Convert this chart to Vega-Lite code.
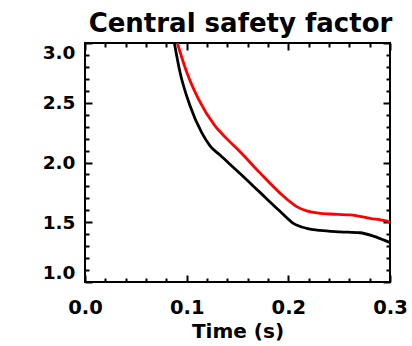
{
  "$schema": "https://vega.github.io/schema/vega-lite/v6.json",
  "width": 305,
  "height": 239,
  "autosize": "none",
  "padding": {"left": 85, "top": 43, "right": 22, "bottom": 64},
  "background": "white",
  "config": {
    "view": {"stroke": "black", "strokeWidth": 2},
    "axis": {
      "domain": false,
      "grid": false,
      "labelFont": "DejaVu Sans",
      "labelFontWeight": "bold",
      "labelColor": "black",
      "titleFont": "DejaVu Sans",
      "titleFontWeight": "bold",
      "titleColor": "black",
      "tickColor": "black",
      "tickWidth": 2
    }
  },
  "title": {
    "text": "Central safety factor",
    "font": "DejaVu Sans",
    "fontWeight": "bold",
    "fontSize": 26,
    "color": "black",
    "anchor": "middle",
    "frame": "group",
    "baseline": "alphabetic",
    "offset": 15,
    "dx": 3,
    "dy": 31
  },
  "data": {
    "values": [
      {"t": 0.0879, "q": 3.0, "s": "black"},
      {"t": 0.0934, "q": 2.757, "s": "black"},
      {"t": 0.1033, "q": 2.475, "s": "black"},
      {"t": 0.1148, "q": 2.25, "s": "black"},
      {"t": 0.123, "q": 2.14, "s": "black"},
      {"t": 0.1328, "q": 2.062, "s": "black"},
      {"t": 0.1525, "q": 1.908, "s": "black"},
      {"t": 0.1721, "q": 1.75, "s": "black"},
      {"t": 0.1918, "q": 1.592, "s": "black"},
      {"t": 0.2049, "q": 1.491, "s": "black"},
      {"t": 0.2181, "q": 1.449, "s": "black"},
      {"t": 0.2311, "q": 1.432, "s": "black"},
      {"t": 0.2508, "q": 1.42, "s": "black"},
      {"t": 0.2705, "q": 1.412, "s": "black"},
      {"t": 0.2836, "q": 1.384, "s": "black"},
      {"t": 0.2983, "q": 1.336, "s": "black"},
      {"t": 0.3, "q": 1.33, "s": "black"},
      {"t": 0.0908, "q": 3.0, "s": "red"},
      {"t": 0.1, "q": 2.757, "s": "red"},
      {"t": 0.1115, "q": 2.532, "s": "red"},
      {"t": 0.1279, "q": 2.306, "s": "red"},
      {"t": 0.1394, "q": 2.2, "s": "red"},
      {"t": 0.1525, "q": 2.09, "s": "red"},
      {"t": 0.1721, "q": 1.913, "s": "red"},
      {"t": 0.1918, "q": 1.744, "s": "red"},
      {"t": 0.2082, "q": 1.631, "s": "red"},
      {"t": 0.2181, "q": 1.595, "s": "red"},
      {"t": 0.2311, "q": 1.575, "s": "red"},
      {"t": 0.241, "q": 1.569, "s": "red"},
      {"t": 0.2607, "q": 1.561, "s": "red"},
      {"t": 0.2803, "q": 1.533, "s": "red"},
      {"t": 0.2983, "q": 1.505, "s": "red"},
      {"t": 0.3, "q": 1.5, "s": "red"}
    ]
  },
  "resolve": {"axis": {"x": "independent", "y": "independent"}},
  "layer": [
    {
      "transform": [{"filter": "datum.s === 'black'"}],
      "mark": {"type": "line", "color": "black", "strokeWidth": 2.8, "clip": true, "interpolate": "monotone"},
      "encoding": {
        "x": {
          "field": "t", "type": "quantitative",
          "scale": {"domain": [0, 0.3], "nice": false, "zero": false},
          "axis": {"orient": "bottom", "values": [0, 0.1, 0.2, 0.3], "format": ".1f", "ticks": false, "labelFlush": false, "labelPadding": 16, "labelFontSize": 19.5, "title": "Time (s)", "titleFontSize": 20, "titlePadding": 5}
        },
        "y": {
          "field": "q", "type": "quantitative",
          "scale": {"domain": [1, 3], "nice": false, "zero": false},
          "axis": {"orient": "left", "values": [1, 1.5, 2, 2.5, 3], "format": ".1f", "ticks": false, "labelPadding": 10, "labelFontSize": 18.5, "labelFlush": true, "title": null}
        }
      }
    },
    {
      "transform": [{"filter": "datum.s === 'red'"}],
      "mark": {"type": "line", "color": "red", "strokeWidth": 2.8, "clip": true, "interpolate": "monotone"},
      "encoding": {
        "x": {"field": "t", "type": "quantitative", "axis": {"orient": "bottom", "values": [0, 0.1, 0.2, 0.3], "labels": false, "tickSize": -7, "title": null}},
        "y": {"field": "q", "type": "quantitative", "axis": {"orient": "left", "values": [1, 1.5, 2, 2.5, 3], "labels": false, "tickSize": -7, "title": null}}
      }
    },
    {
      "transform": [{"filter": "datum.s === 'red'"}],
      "mark": {"type": "line", "opacity": 0},
      "encoding": {
        "x": {"field": "t", "type": "quantitative", "axis": {"orient": "top", "values": [0, 0.1, 0.2, 0.3], "labels": false, "tickSize": -7, "title": null}},
        "y": {"field": "q", "type": "quantitative", "axis": {"orient": "right", "values": [1, 1.5, 2, 2.5, 3], "labels": false, "tickSize": -7, "title": null}}
      }
    },
    {
      "transform": [{"filter": "datum.s === 'red'"}],
      "mark": {"type": "line", "opacity": 0},
      "encoding": {
        "x": {"field": "t", "type": "quantitative", "axis": {"orient": "bottom", "values": [0.02, 0.04, 0.06, 0.08, 0.12, 0.14, 0.16, 0.18, 0.22, 0.24, 0.26, 0.28], "labels": false, "tickSize": -4, "title": null}},
        "y": {"field": "q", "type": "quantitative", "axis": {"orient": "left", "values": [1.1, 1.2, 1.3, 1.4, 1.6, 1.7, 1.8, 1.9, 2.1, 2.2, 2.3, 2.4, 2.6, 2.7, 2.8, 2.9], "labels": false, "tickSize": -4, "title": null}}
      }
    },
    {
      "transform": [{"filter": "datum.s === 'red'"}],
      "mark": {"type": "line", "opacity": 0},
      "encoding": {
        "x": {"field": "t", "type": "quantitative", "axis": {"orient": "top", "values": [0.02, 0.04, 0.06, 0.08, 0.12, 0.14, 0.16, 0.18, 0.22, 0.24, 0.26, 0.28], "labels": false, "tickSize": -4, "title": null}},
        "y": {"field": "q", "type": "quantitative", "axis": {"orient": "right", "values": [1.1, 1.2, 1.3, 1.4, 1.6, 1.7, 1.8, 1.9, 2.1, 2.2, 2.3, 2.4, 2.6, 2.7, 2.8, 2.9], "labels": false, "tickSize": -4, "title": null}}
      }
    }
  ]
}
